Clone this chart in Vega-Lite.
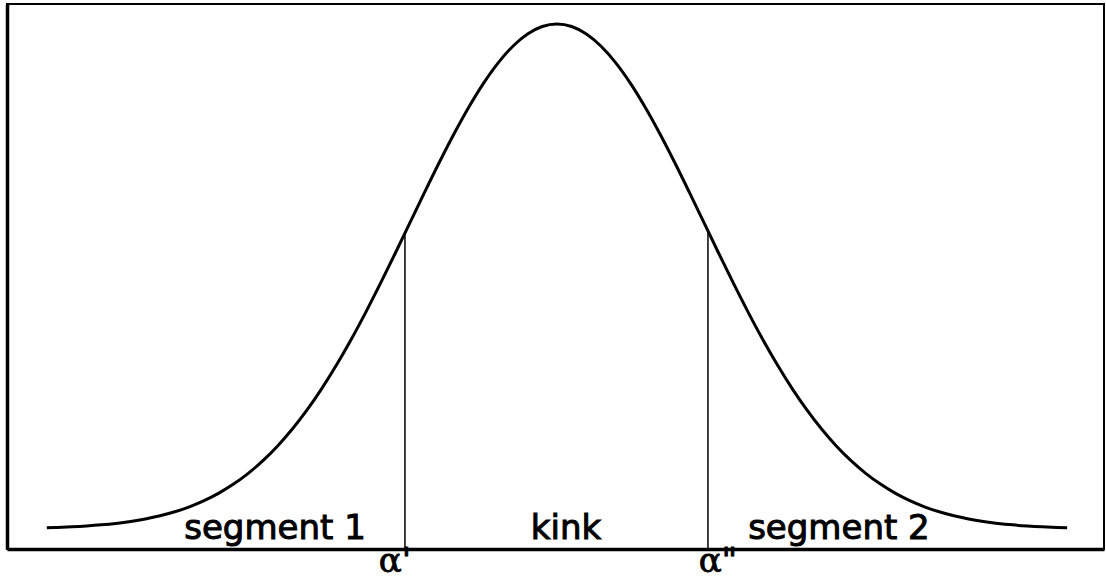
{
  "$schema": "https://vega.github.io/schema/vega-lite/v6.json",
  "width": 1097,
  "height": 545,
  "autosize": {"type": "none"},
  "padding": {"left": 7, "top": 4, "right": 2, "bottom": 34},
  "background": "white",
  "config": {
    "view": {"stroke": "black", "strokeWidth": 2},
    "axis": {"domainColor": "black", "domainWidth": 3.5, "ticks": false, "labels": false, "grid": false}
  },
  "datasets": {
    "curve": [
      {"z": -3.47, "v": 0.00243}, {"z": -3.4, "v": 0.00309}, {"z": -3.3, "v": 0.00432}, {"z": -3.2, "v": 0.00598},
      {"z": -3.1, "v": 0.00819}, {"z": -3.0, "v": 0.01111}, {"z": -2.9, "v": 0.01492}, {"z": -2.8, "v": 0.01984},
      {"z": -2.7, "v": 0.02612}, {"z": -2.6, "v": 0.03405}, {"z": -2.5, "v": 0.04394}, {"z": -2.4, "v": 0.05613},
      {"z": -2.3, "v": 0.071}, {"z": -2.2, "v": 0.08892}, {"z": -2.1, "v": 0.11025}, {"z": -2.0, "v": 0.13534},
      {"z": -1.9, "v": 0.16447}, {"z": -1.8, "v": 0.1979}, {"z": -1.7, "v": 0.23575}, {"z": -1.6, "v": 0.27804},
      {"z": -1.5, "v": 0.32465}, {"z": -1.4, "v": 0.37531}, {"z": -1.3, "v": 0.42956}, {"z": -1.2, "v": 0.48675},
      {"z": -1.1, "v": 0.54607}, {"z": -1.0, "v": 0.60653}, {"z": -0.9, "v": 0.66698}, {"z": -0.8, "v": 0.72615},
      {"z": -0.7, "v": 0.7827}, {"z": -0.6, "v": 0.83527}, {"z": -0.5, "v": 0.8825}, {"z": -0.4, "v": 0.92312},
      {"z": -0.3, "v": 0.956}, {"z": -0.2, "v": 0.9802}, {"z": -0.1, "v": 0.99501}, {"z": 0.0, "v": 1.0},
      {"z": 0.1, "v": 0.99501}, {"z": 0.2, "v": 0.9802}, {"z": 0.3, "v": 0.956}, {"z": 0.4, "v": 0.92312},
      {"z": 0.5, "v": 0.8825}, {"z": 0.6, "v": 0.83527}, {"z": 0.7, "v": 0.7827}, {"z": 0.8, "v": 0.72615},
      {"z": 0.9, "v": 0.66698}, {"z": 1.0, "v": 0.60653}, {"z": 1.1, "v": 0.54607}, {"z": 1.2, "v": 0.48675},
      {"z": 1.3, "v": 0.42956}, {"z": 1.4, "v": 0.37531}, {"z": 1.5, "v": 0.32465}, {"z": 1.6, "v": 0.27804},
      {"z": 1.7, "v": 0.23575}, {"z": 1.8, "v": 0.1979}, {"z": 1.9, "v": 0.16447}, {"z": 2.0, "v": 0.13534},
      {"z": 2.1, "v": 0.11025}, {"z": 2.2, "v": 0.08892}, {"z": 2.3, "v": 0.071}, {"z": 2.4, "v": 0.05613},
      {"z": 2.5, "v": 0.04394}, {"z": 2.6, "v": 0.03405}, {"z": 2.7, "v": 0.02612}, {"z": 2.8, "v": 0.01984},
      {"z": 2.9, "v": 0.01492}, {"z": 3.0, "v": 0.01111}, {"z": 3.1, "v": 0.00819}, {"z": 3.2, "v": 0.00598},
      {"z": 3.3, "v": 0.00432}, {"z": 3.4, "v": 0.00309}, {"z": 3.47, "v": 0.00243}
    ],
    "cuts": [
      {"z": -1.034, "top": 0.586, "bottom": -0.0396, "labx": -1.102, "lab": -0.0851, "name": "α'"},
      {"z": 1.027, "top": 0.59, "bottom": -0.0396, "labx": 1.095, "lab": -0.0851, "name": "α\""}
    ],
    "segments": [
      {"z": -1.918, "y": -0.0198, "label": "segment 1"},
      {"z": 0.061, "y": -0.0198, "label": "kink"},
      {"z": 1.918, "y": -0.0198, "label": "segment 2"}
    ]
  },
  "layer": [
    {
      "data": {"name": "curve"},
      "mark": {"type": "line", "color": "black", "strokeWidth": 3, "interpolate": "monotone"},
      "encoding": {
        "x": {"field": "z", "type": "quantitative", "scale": {"domain": [-3.741, 3.721], "nice": false, "zero": false}, "axis": {"orient": "bottom", "title": null}},
        "y": {"field": "v", "type": "quantitative", "scale": {"domain": [-0.0396, 1.0396], "nice": false, "zero": false}, "axis": {"orient": "left", "title": null}}
      }
    },
    {
      "data": {"name": "cuts"},
      "mark": {"type": "rule", "color": "black", "strokeWidth": 1.5},
      "encoding": {
        "x": {"field": "z", "type": "quantitative"},
        "y": {"field": "bottom", "type": "quantitative"},
        "y2": {"field": "top"}
      }
    },
    {
      "data": {"name": "cuts"},
      "mark": {"type": "text", "font": "DejaVu Serif", "fontSize": 34, "color": "black", "stroke": "black", "strokeWidth": 0.8, "baseline": "alphabetic", "align": "center"},
      "encoding": {
        "x": {"field": "labx", "type": "quantitative"},
        "y": {"field": "lab", "type": "quantitative"},
        "text": {"field": "name", "type": "nominal"}
      }
    },
    {
      "data": {"name": "segments"},
      "mark": {"type": "text", "font": "DejaVu Sans", "fontSize": 34, "color": "black", "stroke": "black", "strokeWidth": 1, "baseline": "alphabetic", "align": "center"},
      "encoding": {
        "x": {"field": "z", "type": "quantitative"},
        "y": {"field": "y", "type": "quantitative"},
        "text": {"field": "label", "type": "nominal"}
      }
    }
  ]
}
